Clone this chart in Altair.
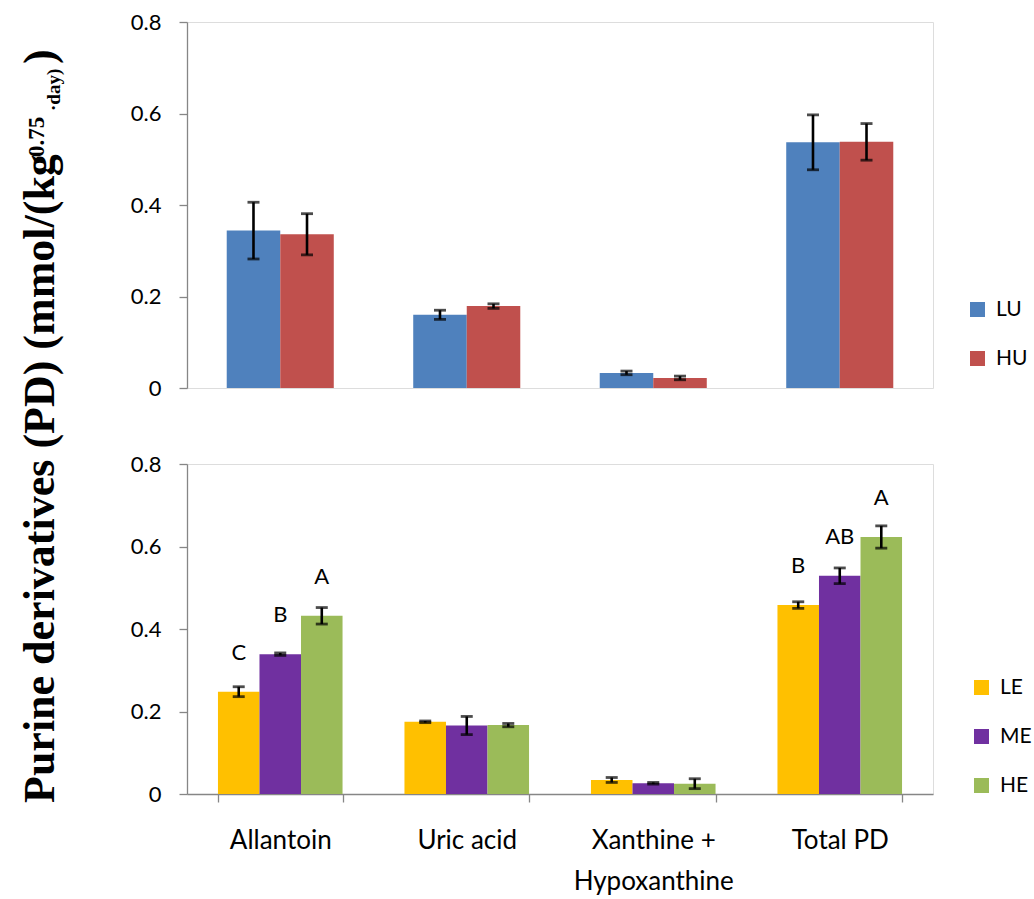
import altair as alt
import pandas as pd

# Categories on the shared x axis ("\n" splits the third label over two lines)
categories = ["Allantoin", "Uric acid", "Xanthine +\nHypoxanthine", "Total PD"]

# Upper panel: urea level groups, mean and SE
urea_groups = ["LU", "HU"]
urea_colors = ["#4F81BD", "#C0504D"]
lu_mean = [0.344, 0.160, 0.033, 0.537]
lu_se = [0.062, 0.010, 0.004, 0.060]
hu_mean = [0.336, 0.179, 0.022, 0.538]
hu_se = [0.045, 0.005, 0.004, 0.040]

# Lower panel: energy level groups, mean, SE and significance letters
energy_groups = ["LE", "ME", "HE"]
energy_colors = ["#FFC000", "#7030A0", "#9BBB59"]
le_mean = [0.248, 0.175, 0.034, 0.458]
le_se = [0.012, 0.002, 0.006, 0.008]
me_mean = [0.339, 0.166, 0.026, 0.529]
me_se = [0.003, 0.022, 0.002, 0.019]
he_mean = [0.432, 0.167, 0.025, 0.623]
he_se = [0.020, 0.004, 0.012, 0.027]
le_letters = ["C", "", "", "B"]
me_letters = ["B", "", "", "AB"]
he_letters = ["A", "", "", "A"]

y_ticks = [0, 0.2, 0.4, 0.6, 0.8]

# Shared y-axis title, drawn in pieces for the superscript and subscript
title_main = "Purine derivatives (PD) (mmol/(kg"
title_sup = "0.75"
title_sub = "·day)"
title_end = " )"

SANS = "Lato"
SERIF = "Liberation Serif"
GREY = "#868686"


def build_frame(groups, means, ses, letters=None):
    rows = []
    for gi, g in enumerate(groups):
        for ci, c in enumerate(categories):
            row = {"cat": c, "group": g, "mean": means[gi][ci], "se": ses[gi][ci]}
            if letters is not None:
                row["letter"] = letters[gi][ci]
            rows.append(row)
    return pd.DataFrame(rows)


urea_df = build_frame(urea_groups, [lu_mean, hu_mean], [lu_se, hu_se])
energy_df = build_frame(
    energy_groups,
    [le_mean, me_mean, he_mean],
    [le_se, me_se, he_se],
    [le_letters, me_letters, he_letters],
)

y_axis = alt.Axis(
    values=y_ticks,
    labelExpr="datum.value == 0 ? '0' : format(datum.value, '.1f')",
    grid=False,
    title=None,
    domainColor=GREY,
    domainWidth=1.3,
    tickColor=GREY,
    tickWidth=1.3,
    tickSize=8,
    labelPadding=18,
    labelFont=SANS,
    labelFontSize=22,
    labelColor="black",
)
y_scale = alt.Scale(domain=[0, 0.8], nice=False)


def panel(df, groups, colors, pad_inner, x_axis, legend_x, legend_y):
    x_enc = alt.X(
        "cat:N",
        sort=categories,
        scale=alt.Scale(paddingInner=pad_inner, paddingOuter=pad_inner / 2),
        axis=x_axis,
    )
    off_enc = alt.XOffset("group:N", sort=groups, scale=alt.Scale(paddingInner=0, paddingOuter=0))
    base = alt.Chart(df).encode(x=x_enc, xOffset=off_enc).transform_calculate(
        lo="datum.mean - datum.se", hi="datum.mean + datum.se"
    )
    bars = base.mark_bar().encode(
        y=alt.Y("mean:Q", scale=y_scale, axis=y_axis),
        color=alt.Color(
            "group:N",
            sort=groups,
            scale=alt.Scale(domain=groups, range=colors),
            legend=alt.Legend(
                title=None,
                orient="none",
                legendX=legend_x,
                legendY=legend_y,
                symbolType="square",
                symbolSize=225,
                symbolStrokeWidth=0,
                labelFont=SANS,
                labelFontSize=21,
                labelColor="black",
                labelOffset=8,
                rowPadding=27,
                padding=0,
            ),
        ),
    )
    whisker = base.mark_rule(color="black", strokeWidth=2.6).encode(y="lo:Q", y2="hi:Q")
    cap_lo = base.mark_tick(color="black", size=12, thickness=2.8).encode(y="lo:Q")
    cap_hi = base.mark_tick(color="black", size=12, thickness=2.8).encode(y="hi:Q")
    layers = [bars, whisker, cap_lo, cap_hi]
    if "letter" in df.columns:
        # significance letters sit above each bar
        letters = base.mark_text(
            font=SANS, fontSize=22, color="black", baseline="middle", dy=-39
        ).encode(y="mean:Q", text="letter:N")
        layers.append(letters)
    return layers


top_layers = panel(urea_df, urea_groups, urea_colors, 0.426, None, 780, 277)
top = alt.layer(*top_layers).properties(width=746, height=366)

x_axis = alt.Axis(
    title=None,
    labelAngle=0,
    tickBand="extent",
    tickSize=8,
    tickColor=GREY,
    tickWidth=1.3,
    domainColor=GREY,
    domainWidth=1.3,
    labelFont=SANS,
    labelFontSize=26,
    labelLineHeight=41,
    labelPadding=25,
    labelColor="black",
    labelExpr="split(datum.label, '\\n')",
)
bottom_layers = panel(energy_df, energy_groups, energy_colors, 0.332, x_axis, 784, 213)

# Rotated y-axis title pieces, placed to the left of the lower panel
title_df = pd.DataFrame({"t": [0]})


def title_piece(text, size, x, y):
    return alt.Chart(title_df).mark_text(
        text=text, angle=270, align="left", baseline="alphabetic",
        font=SERIF, fontWeight="bold", fontSize=size, color="black",
    ).encode(x=alt.value(x), y=alt.value(y))


t_main = title_piece(title_main, 44, -133, 339)
t_sup = title_piece(title_sup, 23, -143, -307)
t_sub = title_piece(title_sub, 19, -127, -353)
t_end = title_piece(title_end, 44, -133, -400)

bottom = alt.layer(*bottom_layers, t_main, t_sup, t_sub, t_end).properties(width=746, height=330)

chart = (
    alt.vconcat(top, bottom, spacing=76, bounds="flush")
    .resolve_scale(color="independent", x="independent", y="independent", xOffset="independent")
    .properties(padding={"left": 18, "top": 10, "right": 0, "bottom": 0})
    .configure_view(stroke=None)
    .configure(background="white")
)

chart.save("out.html", embed_options={"renderer": "svg", "actions": False})
